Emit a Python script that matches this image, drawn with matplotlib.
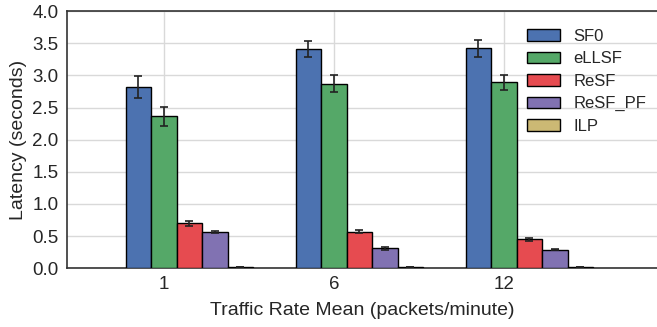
import matplotlib.pyplot as plt
import matplotlib as mtpl
import numpy as np

mtpl.rcParams['font.family'] = ['Liberation Sans', 'DejaVu Sans']

rates = ['1', '6', '12']
schemes = ["SF0", "eLLSF", "ReSF", "ReSF_PF", "ILP"]
palette = ["#4C72B0", "#55A868", "#E64B50", "#8172B2", "#CCB974"]

sf0 = [2.82, 3.41, 3.42]
sf0_err = [0.17, 0.13, 0.13]
ellsf = [2.36, 2.87, 2.89]
ellsf_err = [0.15, 0.13, 0.12]
resf = [0.70, 0.57, 0.45]
resf_err = [0.04, 0.03, 0.02]
resf_pf = [0.56, 0.31, 0.29]
resf_pf_err = [0.02, 0.02, 0.015]
ilp = [0.02, 0.02, 0.02]
ilp_err = [0.005, 0.005, 0.005]

values = [sf0, ellsf, resf, resf_pf, ilp]
errors = [sf0_err, ellsf_err, resf_err, resf_pf_err, ilp_err]

fig = plt.figure(figsize=(6.57, 3.27), dpi=100)
ax = fig.add_axes([0.102, 0.18, 0.898, 0.786])

ind = np.arange(len(rates))
width = 0.15
for i, name in enumerate(schemes):
    ax.bar(ind + (i - 1) * width, values[i], width, yerr=errors[i], color=palette[i],
           edgecolor='black', linewidth=1, label=name, zorder=3,
           error_kw=dict(ecolor='#222222', elinewidth=1.2, capsize=3, capthick=1.2, zorder=4))

ax.set_xlim(-0.57, 2.9)
ax.set_ylim(0, 4.0)
ax.set_yticks(np.arange(0, 4.01, 0.5))
ax.set_xticks(ind)
ax.set_xticklabels(rates)
ax.tick_params(axis='both', length=0, labelsize=13.5, pad=6, colors='#262626')
ax.grid(True, color='#d9d9d9', linewidth=1, zorder=0)
ax.set_axisbelow(True)
for side in ['left', 'bottom', 'top']:
    ax.spines[side].set_color('#333333')
    ax.spines[side].set_linewidth(1.2)
ax.spines['right'].set_visible(False)

ax.set_xlabel('Traffic Rate Mean (packets/minute)', fontsize=14, labelpad=6, color='#262626')
ax.set_ylabel('Latency (seconds)', fontsize=14, labelpad=4, color='#262626')

leg = ax.legend(loc='upper right', frameon=False, fontsize=12, handlelength=2.0, handleheight=0.7,
                handletextpad=0.8, labelspacing=0.45, bbox_to_anchor=(1.007, 0.99))
for t in leg.get_texts():
    t.set_color('#262626')

plt.savefig('out.png', dpi=100)
